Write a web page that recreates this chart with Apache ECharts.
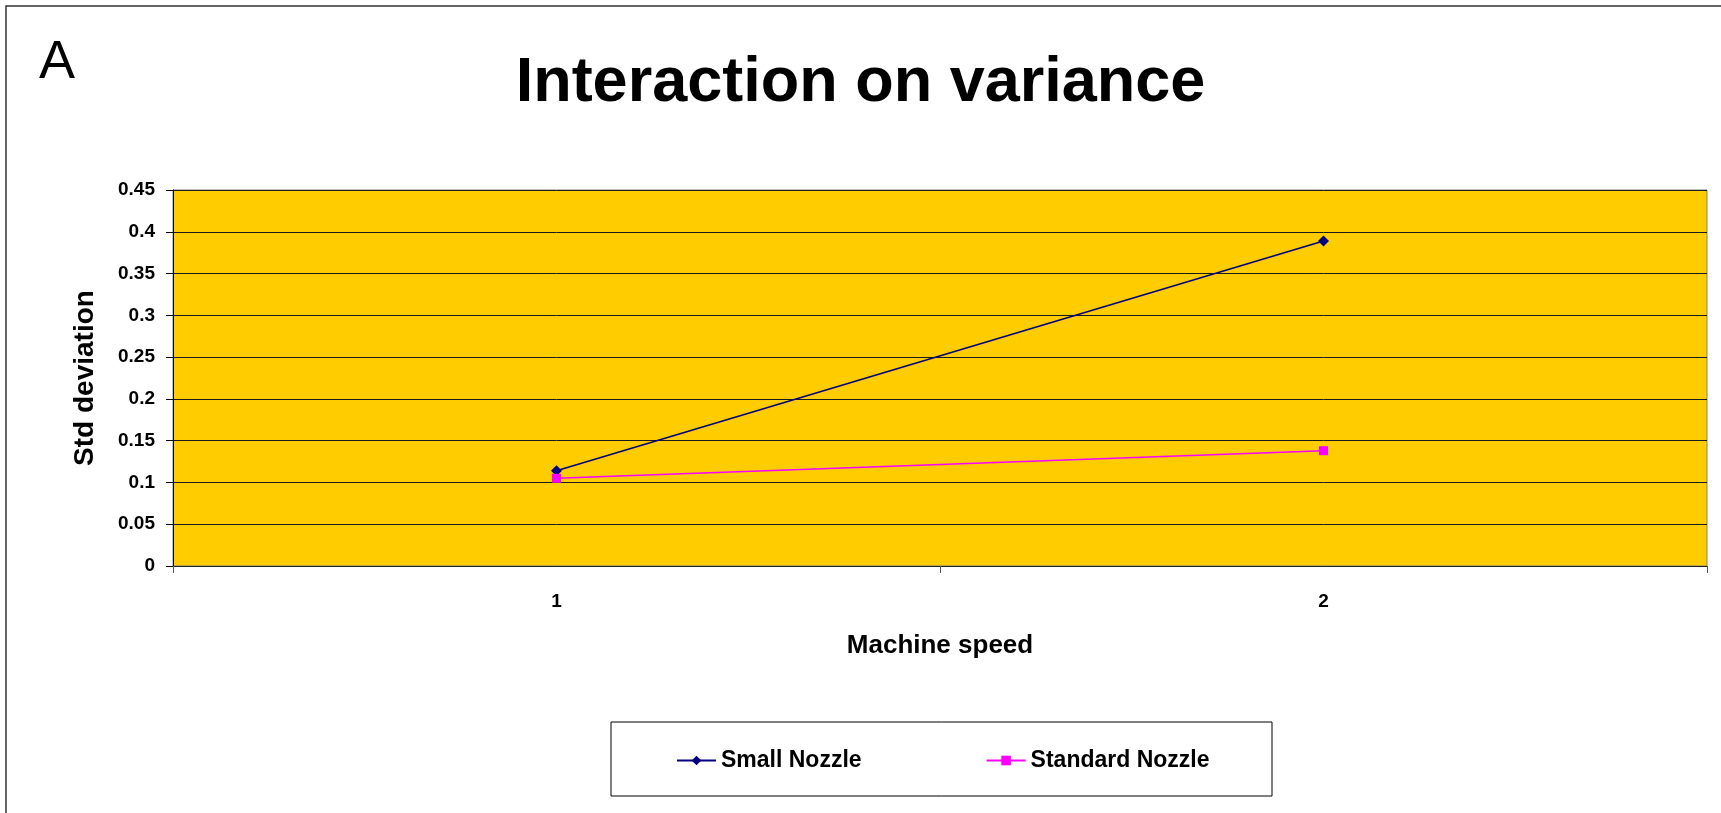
<!DOCTYPE html>
<html>
<head>
<meta charset="utf-8">
<title>Interaction on variance</title>
<script src="https://cdn.jsdelivr.net/npm/echarts@6/dist/echarts.min.js"></script>
<style>
  html, body { margin: 0; padding: 0; background: #fff; }
  #main { width: 1721px; height: 813px; }
</style>
</head>
<body>
<div id="main"></div>
<script>
// data
const speeds = ["1", "2"];
const smallNozzle = [0.114, 0.389];
const standardNozzle = [0.105, 0.138];
const seriesNames = ["Small Nozzle", "Standard Nozzle"];

const FONT = "'Liberation Sans', Arial, sans-serif";

const chart = echarts.init(document.getElementById("main"));

const option = {
  backgroundColor: "#fff",
  animation: false,
  title: {
    text: "Interaction on variance",
    left: "center",
    top: 47,
    textStyle: { fontFamily: FONT, fontSize: 63, fontWeight: "bold", color: "#000" }
  },
  graphic: [
    {
      // outer frame
      type: "rect",
      shape: { x: 6, y: 6, width: 1800, height: 900 },
      style: { fill: "none", stroke: "#333", lineWidth: 1.5 },
      silent: true
    },
    {
      type: "text",
      left: 39,
      top: 36,
      style: { text: "A", fontFamily: FONT, fontSize: 54, fill: "#000" }
    },
    {
      // legend box
      type: "rect",
      shape: { x: 611, y: 722, width: 661, height: 74 },
      style: { fill: "#fff", stroke: "#000", lineWidth: 1 },
      z: -1,
      silent: true
    }
  ],
  legend: {
    data: seriesNames,
    left: 676,
    top: 749,
    padding: 0,
    itemWidth: 39,
    itemHeight: 12,
    itemGap: 124,
    textStyle: { fontFamily: FONT, fontSize: 23, fontWeight: "bold", color: "#000" }
  },
  grid: {
    left: 173,
    right: 14,
    top: 190,
    bottom: 247,
    show: true,
    backgroundColor: "#FFCC00",
    borderColor: "#808080",
    borderWidth: 1
  },
  xAxis: {
    type: "category",
    data: speeds,
    boundaryGap: true,
    name: "Machine speed",
    nameLocation: "middle",
    nameGap: 67,
    nameTextStyle: { fontFamily: FONT, fontSize: 26, fontWeight: "bold", color: "#000" },
    axisLine: { lineStyle: { color: "#222", width: 1 } },
    axisTick: { show: true, length: 7, lineStyle: { color: "#555" } },
    axisLabel: { margin: 26, fontFamily: FONT, fontSize: 19, fontWeight: "bold", color: "#000" },
    splitLine: { show: false }
  },
  yAxis: {
    type: "value",
    min: 0,
    max: 0.45,
    interval: 0.05,
    name: "Std deviation",
    nameLocation: "middle",
    nameGap: 74,
    nameTextStyle: { fontFamily: FONT, fontSize: 28, fontWeight: "bold", color: "#000" },
    axisLine: { show: true, lineStyle: { color: "#000", width: 1 } },
    axisTick: { show: true, length: 7, lineStyle: { color: "#000" } },
    axisLabel: { margin: 18, fontFamily: FONT, fontSize: 19, fontWeight: "bold", color: "#000" },
    splitLine: { show: true, lineStyle: { color: "#1a1a1a", width: 1 } }
  },
  series: [
    {
      name: seriesNames[0],
      type: "line",
      data: smallNozzle,
      symbol: "diamond",
      symbolSize: 11,
      lineStyle: { color: "#000080", width: 1.5 },
      itemStyle: { color: "#000080" }
    },
    {
      name: seriesNames[1],
      type: "line",
      data: standardNozzle,
      symbol: "rect",
      symbolSize: 9,
      lineStyle: { color: "#FF00FF", width: 1.5 },
      itemStyle: { color: "#FF00FF" }
    }
  ]
};

chart.setOption(option);
window.addEventListener("resize", () => {
  chart.resize();
});
</script>
</body>
</html>
